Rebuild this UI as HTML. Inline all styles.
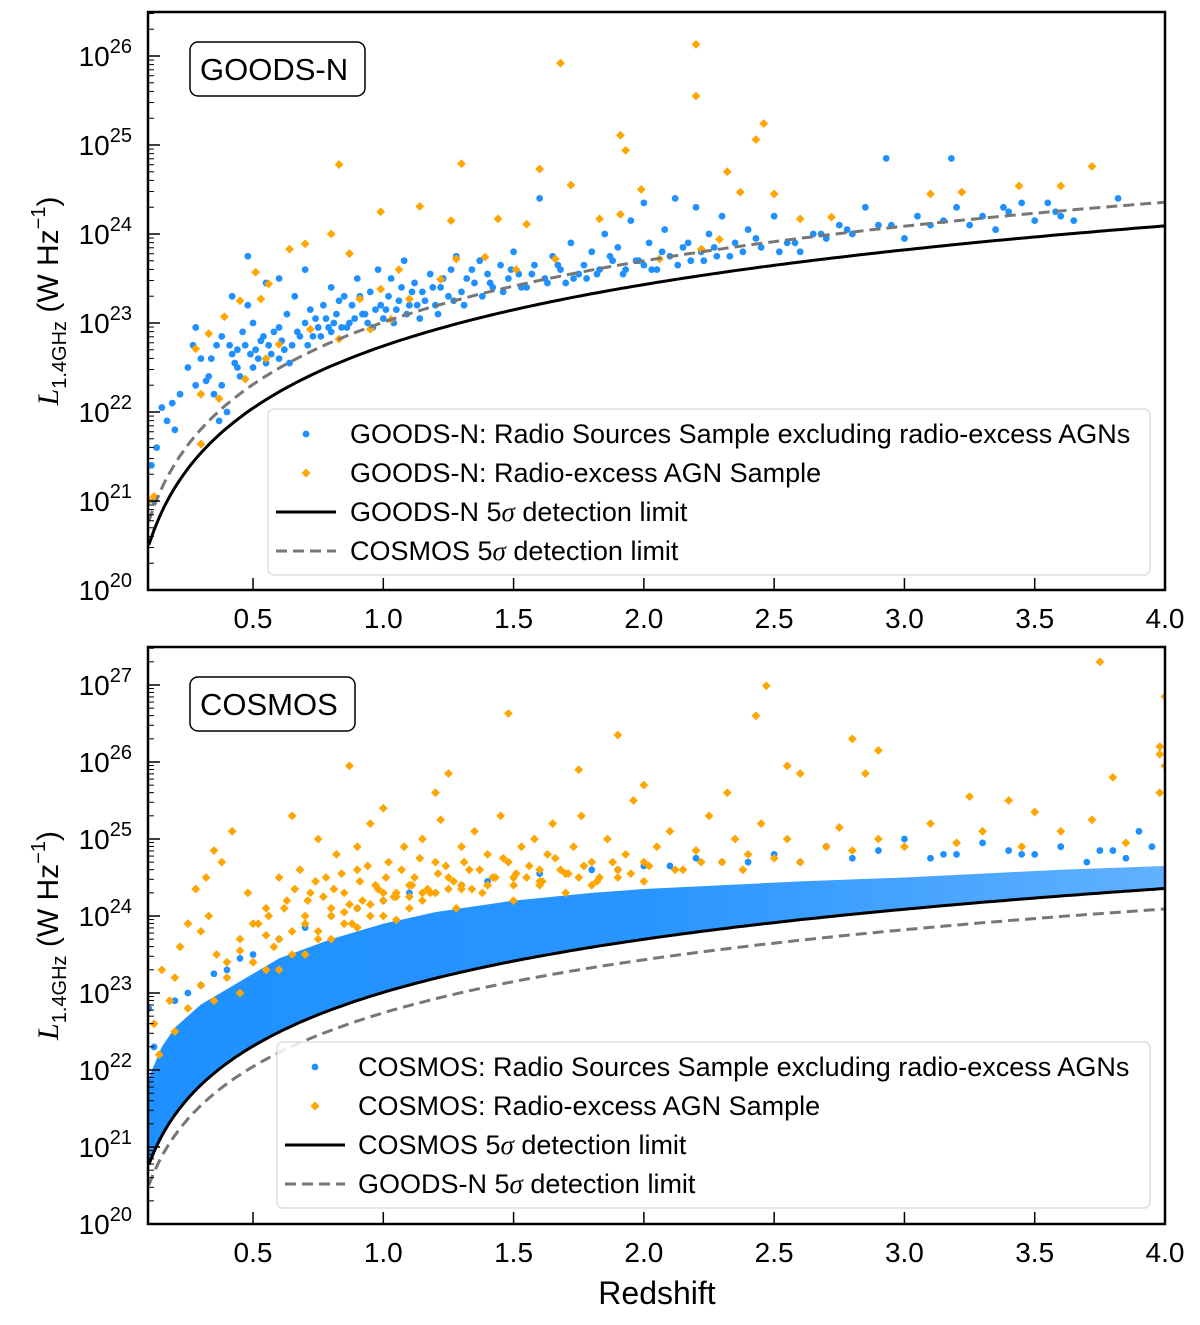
<!DOCTYPE html>
<html><head><meta charset="utf-8"><style>
body{margin:0;background:#fff}
svg{display:block;font-family:"Liberation Sans",Arial,sans-serif}
</style></head><body>
<svg id="chart" width="1200" height="1325" viewBox="0 0 1200 1325" xmlns="http://www.w3.org/2000/svg">
<defs><linearGradient id="bandGrad" x1="0" x2="1" y1="0" y2="0"><stop offset="0" stop-color="#1e90ff" stop-opacity="1"/><stop offset="0.5" stop-color="#1e90ff" stop-opacity="0.95"/><stop offset="1" stop-color="#1e90ff" stop-opacity="0.7"/></linearGradient></defs>
</svg>
<script>
// ---------- data ----------
const xTicks = [0.5,1.0,1.5,2.0,2.5,3.0,3.5,4.0];
const xTickLabels = ["0.5","1.0","1.5","2.0","2.5","3.0","3.5","4.0"];
const topYTicks = [20,21,22,23,24,25,26];
const botYTicks = [20,21,22,23,24,25,26,27];
const goodsFluxLimit_uJy = 13;
const cosmosFluxLimit_uJy = 24;

const goodsBlueZ = [0.11,0.12,0.13,0.15,0.17,0.19,0.2,0.22,0.25,0.27,0.28,0.3,0.32,0.34,0.35,0.37,0.38,0.4,0.41,0.42,0.43,0.44,0.45,0.46,0.47,0.48,0.5,0.5,0.51,0.53,0.55,0.55,0.57,0.58,0.6,0.6,0.62,0.63,0.65,0.66,0.68,0.7,0.72,0.73,0.75,0.77,0.78,0.8,0.8,0.82,0.84,0.85,0.87,0.88,0.9,0.92,0.94,0.95,0.97,0.98,1.0,1.02,1.03,1.05,1.07,1.08,1.1,1.12,1.14,1.15,1.18,1.2,1.22,1.25,1.26,1.28,1.3,1.32,1.35,1.37,1.4,1.42,1.45,1.48,1.5,1.52,1.55,1.58,1.6,1.62,1.65,1.68,1.7,1.72,1.75,1.78,1.8,1.83,1.85,1.88,1.9,1.92,1.95,1.97,2.0,2.0,2.02,2.05,2.08,2.1,2.12,2.15,2.18,2.2,2.22,2.25,2.28,2.3,2.35,2.38,2.4,2.45,2.5,2.55,2.6,2.65,2.7,2.75,2.8,2.85,2.9,2.93,3.0,3.05,3.1,3.18,3.2,3.25,3.3,3.35,3.4,3.45,3.5,3.55,3.6,3.65,3.82,0.42,0.48,0.38,0.28,0.6,0.7,
 0.52,0.56,0.61,0.64,0.67,0.71,0.74,0.76,0.79,0.81,0.83,0.86,0.89,0.91,0.93,0.96,0.99,1.01,1.04,1.06,1.09,1.11,1.13,1.16,1.19,1.21,1.23,1.27,1.31,1.34,1.38,1.41,1.46,1.49,1.53,1.57,1.63,1.67,1.73,1.77,1.82,1.87,1.93,1.98,2.03,2.07,2.13,2.17,2.23,2.27,2.33,2.43,2.52,2.58,2.68,2.78,2.95,3.15,3.38,3.58,0.36,0.44,0.49,0.54,0.33];
const goodsBlueL = [21.4,21.0,21.6,22.05,21.9,22.1,21.8,22.2,22.5,22.75,22.3,22.6,22.35,22.6,22.2,21.9,22.3,22.0,22.75,22.65,22.55,22.7,22.4,22.9,22.75,23.2,22.5,23.0,22.7,22.8,22.55,23.45,22.65,22.9,22.6,22.95,22.7,23.1,22.75,23.3,22.85,23.0,23.15,22.85,22.95,23.2,23.05,22.9,23.4,23.1,22.95,23.3,23.0,23.2,23.5,23.1,23.0,23.35,23.15,23.6,23.05,23.3,23.5,23.15,23.4,23.7,23.2,23.45,23.05,23.35,23.55,23.2,23.4,23.3,23.6,23.75,23.35,23.5,23.45,23.7,23.55,23.4,23.65,23.5,23.8,23.55,23.4,23.65,24.4,23.5,23.75,23.6,23.45,23.9,23.55,23.5,23.8,23.6,24.0,23.7,23.85,23.55,24.15,23.7,24.35,23.65,23.9,23.6,24.05,23.75,24.4,23.85,23.7,24.3,23.8,24.0,23.75,24.2,23.9,23.8,24.05,23.85,24.2,23.9,23.8,24.0,23.95,24.1,24.0,24.3,24.1,24.85,23.95,24.2,24.1,24.85,24.3,24.1,24.2,24.05,24.25,24.35,24.15,24.35,24.2,24.15,24.4,23.3,23.75,22.85,22.95,23.5,23.6,
 22.6,22.75,22.8,22.55,22.9,22.75,23.05,22.85,22.95,23.0,23.25,22.95,23.05,23.3,23.1,22.95,23.2,23.15,23.0,23.25,23.1,23.35,23.2,23.25,23.4,23.1,23.5,23.25,23.2,23.6,23.3,23.45,23.35,23.6,23.4,23.55,23.45,23.65,23.5,23.65,23.55,23.75,23.6,23.7,23.6,23.8,23.65,23.9,23.7,23.85,23.75,23.95,23.8,23.9,24.0,24.05,24.1,24.15,24.3,24.25,22.75,22.5,22.65,22.85,22.4];

const goodsAgnZ = [2.2,1.68,2.2,2.46,2.43,1.93,1.91,0.83,1.3,1.6,2.32,1.72,3.72,1.99,2.37,2.5,1.14,0.99,1.26,1.44,1.55,3.1,3.22,3.44,3.6,0.8,0.64,0.7,0.51,0.56,0.45,0.39,0.33,0.28,0.3,0.3,0.37,0.87,0.91,0.99,1.06,1.1,1.22,1.28,1.39,1.51,1.66,1.83,1.91,2.06,2.22,2.29,2.6,2.72,0.72,0.83,0.53,0.6,0.47,0.55,0.95,1.03,0.1,0.12];
const goodsAgnL = [26.13,25.92,25.55,25.24,25.06,24.94,25.11,24.78,24.79,24.73,24.70,24.55,24.76,24.5,24.47,24.45,24.31,24.25,24.15,24.17,24.11,24.45,24.47,24.54,24.54,24.0,23.83,23.89,23.57,23.44,23.25,23.07,22.88,22.71,22.2,21.64,22.15,23.78,23.27,23.38,23.6,23.27,23.49,23.72,23.74,23.6,23.72,24.17,24.22,23.72,23.83,23.94,24.17,24.19,22.93,22.82,23.27,22.76,22.37,22.6,22.93,23.04,21.0,21.05];

const cosmosBandZ = [0.1,0.15,0.2,0.3,0.4,0.5,0.6,0.8,1.0,1.2,1.5,1.8,2.0,2.3,2.6,3.0,3.3,3.6,4.0];
const cosmosBandTopL = [21.9,22.3,22.55,22.85,23.05,23.25,23.45,23.7,23.9,24.05,24.2,24.3,24.35,24.4,24.45,24.5,24.55,24.6,24.65];

const cosmosBlueZ = [3.9,3.6,3.3,3.0,2.7,2.9,3.5,3.8,3.95,2.4,2.2,2.0,1.8,1.6,0.1,0.12,0.1,3.1,3.7,3.4,3.2,2.5,2.8,3.85,1.4,1.2,0.3,0.4,0.5,0.6,0.7,0.8,0.9,1.0,1.1,1.3,1.5,1.7,1.9,2.1,2.3,2.6,3.15,3.45,3.75,0.2,0.25,0.35,0.45];
const cosmosBlueL = [25.1,24.9,24.95,25.0,24.9,24.85,24.8,24.85,24.9,24.7,24.75,24.65,24.6,24.55,21.0,22.3,22.8,24.75,24.7,24.85,24.8,24.8,24.75,24.75,24.45,24.3,23.1,23.3,23.5,23.7,23.85,24.0,24.1,24.2,24.3,24.4,24.5,24.55,24.6,24.65,24.7,24.7,24.8,24.8,24.85,22.9,23.0,23.25,23.45];

const cosmosAgnZ = [3.75,2.47,2.43,4.0,1.48,3.98,3.98,4.0,3.98,1.9,2.9,0.87,1.25,1.75,2.0,2.55,2.6,2.8,2.32,3.25,2.85,3.4,3.5,3.72,3.8,0.42,0.35,0.38,0.32,0.28,0.25,0.22,0.3,0.33,0.36,0.4,0.45,0.48,0.52,0.55,0.58,0.6,0.63,0.65,0.68,0.7,0.72,0.75,0.78,0.8,0.82,0.85,0.88,0.9,0.92,0.95,0.97,1.0,1.02,1.05,1.08,1.1,1.12,1.15,1.18,1.2,1.22,1.25,1.28,1.3,1.33,1.35,1.38,1.4,1.43,1.45,1.48,1.5,1.53,1.55,1.58,1.6,1.63,1.65,1.68,1.7,1.73,1.76,1.8,1.83,1.86,1.9,1.93,1.96,2.0,2.05,2.1,2.15,2.2,2.25,2.3,2.35,2.4,2.45,2.5,2.55,2.6,2.7,2.75,2.8,2.9,3.0,3.1,3.2,3.3,3.45,3.6,3.85,0.15,0.18,0.2,0.12,0.14,0.2,0.25,0.3,0.35,0.4,0.45,0.5,0.55,0.6,0.65,0.7,0.75,0.8,0.85,0.9,0.95,1.0,1.05,1.1,1.15,1.2,1.3,1.4,1.5,1.6,1.7,1.8,2.0,0.9,0.75,1.0,1.2,0.65,
 0.5,0.56,0.62,0.66,0.71,0.74,0.77,0.81,0.84,0.87,0.91,0.94,0.98,1.01,1.04,1.07,1.11,1.14,1.17,1.21,1.24,1.27,1.31,1.34,1.37,1.42,1.46,1.51,1.56,1.61,1.66,1.71,1.77,1.82,1.88,1.95,2.02,2.12,2.22,2.38,0.6,0.7,0.8,0.9,1.0,1.1,1.2,1.3,1.4,1.5,1.6,1.75,1.9,0.45,0.55,0.85,0.95,1.05,1.15,1.25];
const cosmosAgnL = [27.3,26.99,26.6,26.85,26.63,26.2,26.1,25.95,25.6,26.35,26.15,25.95,25.85,25.9,25.7,25.95,25.85,26.3,25.6,25.55,25.85,25.5,25.35,25.25,25.8,25.1,24.85,24.7,24.5,24.35,23.9,23.6,23.8,24.0,23.5,23.4,23.7,24.3,23.9,24.1,23.6,24.5,24.2,23.8,24.6,24.0,24.3,23.7,24.5,24.1,24.8,24.3,23.9,24.6,24.2,25.2,24.4,24.0,24.7,24.3,24.9,24.1,24.5,25.0,24.3,24.7,25.25,24.5,24.1,24.9,24.6,25.1,24.3,24.8,24.5,25.3,24.7,24.2,24.9,24.5,25.0,24.4,24.8,25.2,24.6,24.3,24.9,25.3,24.7,24.5,25.0,24.6,24.8,25.5,24.7,24.9,25.1,24.6,24.85,25.3,24.7,25.0,24.8,25.2,24.75,25.0,24.7,24.9,25.15,24.85,25.0,24.9,25.2,24.95,25.1,24.9,25.1,24.95,23.3,22.9,23.2,22.6,22.2,22.5,22.8,23.1,22.9,23.2,23.0,23.4,23.3,23.3,23.5,23.5,23.8,23.7,23.9,23.85,24.0,24.3,23.95,24.4,24.2,24.3,24.4,24.4,24.5,24.6,24.55,24.4,24.45,24.9,25.0,25.4,25.6,25.3,
 23.9,24.0,24.1,24.35,24.2,24.45,24.25,24.35,24.55,24.15,24.45,24.65,24.35,24.5,24.25,24.6,24.4,24.75,24.35,24.55,24.65,24.45,24.7,24.35,24.6,24.5,24.75,24.55,24.65,24.45,24.75,24.55,24.65,24.45,24.7,24.55,24.65,24.6,24.7,24.6,23.7,23.9,24.0,24.1,24.2,24.25,24.3,24.35,24.4,24.4,24.45,24.5,24.5,23.55,23.75,24.05,24.15,24.25,24.3,24.35];

// ---------- helpers ----------
const NS = "http://www.w3.org/2000/svg";
const svg = document.getElementById('chart');
function el(tag, attrs, parent){const e=document.createElementNS(NS,tag);for(const k in attrs)e.setAttribute(k,attrs[k]);(parent||svg).appendChild(e);return e;}
const BLUE="#1e90ff", ORANGE="#ffa500";

function lumLimit(z, uJy){
  const n=200; let s=0;
  for(let i=0;i<n;i++){const zz=(i+0.5)*z/n; s+=1/Math.sqrt(0.3*Math.pow(1+zz,3)+0.7);} s*=z/n;
  const DL = 4282.7*s*(1+z)*3.0857e22;
  return Math.log10(4*Math.PI*DL*DL*uJy*1e-32*Math.pow(1+z,-0.3));
}

function makePanel(cfg){
  const g=el('g',{});
  
  
  const X=z=>148.8+(z-0.1)/(3.9)*(1165-148.8);
  const Y=l=>cfg.y0-(l-20)*cfg.dec;
  const clipId=cfg.name+'-clip';
  const cp=el('clipPath',{id:clipId},g); el('rect',{x:148,y:cfg.top,width:1017,height:cfg.y0-cfg.top},cp);
  const plot=el('g',{'clip-path':'url(#'+clipId+')'},g);
  
  
  return {g,plot,X,Y};
}

function curvePath(X,Y,uJy){
  let d=''; for(let i=0;i<=200;i++){const z=0.1+i*3.9/200; d+=(i?'L':'M')+X(z).toFixed(1)+','+Y(lumLimit(z,uJy)).toFixed(1);} return d;
}
function dots(parent,X,Y,zs,ls,name){
  for(let i=0;i<zs.length;i++){
    const c=el('circle',{cx:X(zs[i]),cy:Y(ls[i]),r:3.4,fill:BLUE},parent);
    
    
  }
}
function diamonds(parent,X,Y,zs,ls,name){
  for(let i=0;i<zs.length;i++){
    const x=X(zs[i]),y=Y(ls[i]),s=4.4;
    const p=el('path',{d:`M${x},${y-s}L${x+s},${y}L${x},${y+s}L${x-s},${y}Z`,fill:ORANGE},parent);
    
    
  }
}
function axes(P,cfg,yTicks){
  const {g,X,Y}=P;
  for(let i=0;i<xTicks.length;i++){
    const x=X(xTicks[i]);
    el('line',{x1:x,x2:x,y1:cfg.y0,y2:cfg.y0-12,stroke:'#000','stroke-width':1.5},g);
    const t=el('text',{x:x,y:cfg.y0+38,'font-size':28,'text-anchor':'middle'},g); t.textContent=xTickLabels[i];
    
    
  }
  for(let i=0;i<yTicks.length;i++){
    const y=Y(yTicks[i]);
    el('line',{x1:148,x2:160,y1:y,y2:y,stroke:'#000','stroke-width':1.5},g);
    for(let m=2;m<10;m++){const ym=Y(yTicks[i]+Math.log10(m)); if(ym>cfg.top) el('line',{x1:148,x2:154,y1:ym,y2:ym,stroke:'#000','stroke-width':1},g);}
    const t=el('text',{x:132,y:y+10,'font-size':28,'text-anchor':'end'},g);
    t.innerHTML='10<tspan dy="-13" font-size="20">'+yTicks[i]+'</tspan>';
    
    
  }
  const fr=el('rect',{x:148,y:cfg.top,width:1017,height:cfg.y0-cfg.top,fill:'none',stroke:'#000','stroke-width':2.5},g);
  
  
  const yc=(cfg.top+cfg.y0)/2;
  const yt=el('text',{transform:`translate(58,${yc}) rotate(-90)`,'font-size':30,'text-anchor':'middle'},g);
  yt.innerHTML='<tspan font-family="Liberation Serif,serif" font-style="italic">L</tspan><tspan font-size="20" dy="8">1.4GHz</tspan><tspan dy="-8"> (W Hz</tspan><tspan font-size="20" dy="-13">−1</tspan><tspan dy="13">)</tspan>';
  
  
  const lb=el('rect',{x:190,y:cfg.top+30,width:cfg.labelW,height:54,rx:8,fill:'#fff',stroke:'#000','stroke-width':1.5},g);
  
  
  const lt=el('text',{x:200,y:cfg.top+68,'font-size':31},g); lt.textContent=cfg.field;
  
  
}
function legend(g,cfg,labels){
  const lx=cfg.legX, ly=cfg.legY;
  const box=el('rect',{x:lx,y:ly,width:1150-lx,height:166,rx:6,fill:'#fff','fill-opacity':0.85,stroke:'#ddd','stroke-width':1.5},g);
  
  
  const mx=lx+38, tx=cfg.textX;
  for(let i=0;i<4;i++){
    const y=ly+25+i*39;
    if(i==0){el('circle',{cx:mx,cy:y,r:3.4,fill:BLUE},g);}
    else if(i==1){el('path',{d:`M${mx},${y-4.5}L${mx+4.5},${y}L${mx},${y+4.5}L${mx-4.5},${y}Z`,fill:ORANGE},g);}
    else if(i==cfg.solidRow){el('line',{x1:lx+8,x2:lx+68,y1:y,y2:y,stroke:'#000','stroke-width':3},g);}
    else {el('line',{x1:lx+8,x2:lx+68,y1:y,y2:y,stroke:'#777','stroke-width':3,'stroke-dasharray':'11,6'},g);}
    const t=el('text',{x:tx,y:y+9,'font-size':27},g); t.innerHTML=labels[i];
    
    
  }
}
const sig='<tspan font-family="Liberation Serif,serif" font-style="italic">σ</tspan>';

// ---------- top panel ----------
const cTop={name:'goods-n-panel',top:12,y0:590,dec:89,labelW:175,field:'GOODS-N',legX:268,legY:409,solidRow:2,textX:350};
const T=makePanel(cTop);
dots(T.plot,T.X,T.Y,goodsBlueZ,goodsBlueL,'goods-n-radio-source');
diamonds(T.plot,T.X,T.Y,goodsAgnZ,goodsAgnL,'goods-n-agn');
let p=el('path',{d:curvePath(T.X,T.Y,cosmosFluxLimit_uJy),fill:'none',stroke:'#777','stroke-width':3,'stroke-dasharray':'11,6'},T.plot);
 
p=el('path',{d:curvePath(T.X,T.Y,goodsFluxLimit_uJy),fill:'none',stroke:'#000','stroke-width':3},T.plot);
 
axes(T,cTop,topYTicks);
legend(T.g,cTop,['GOODS-N: Radio Sources Sample excluding radio-excess AGNs','GOODS-N: Radio-excess AGN Sample','GOODS-N 5'+sig+' detection limit','COSMOS  5'+sig+' detection limit']);

// ---------- bottom panel ----------
const cBot={name:'cosmos-panel',top:647,y0:1224,dec:77,labelW:165,field:'COSMOS',legX:277,legY:1042,solidRow:2,textX:358};
const B=makePanel(cBot);
let d='';
for(let i=0;i<cosmosBandZ.length;i++) d+=(i?'L':'M')+B.X(cosmosBandZ[i]).toFixed(1)+','+B.Y(cosmosBandTopL[i]).toFixed(1);
for(let i=200;i>=0;i--){const z=0.1+i*3.9/200; d+='L'+B.X(z).toFixed(1)+','+B.Y(lumLimit(z,cosmosFluxLimit_uJy)).toFixed(1);}
p=el('path',{d:d+'Z',fill:'url(#bandGrad)'},B.plot);
 
dots(B.plot,B.X,B.Y,cosmosBlueZ,cosmosBlueL,'cosmos-radio-source');
diamonds(B.plot,B.X,B.Y,cosmosAgnZ,cosmosAgnL,'cosmos-agn');
p=el('path',{d:curvePath(B.X,B.Y,goodsFluxLimit_uJy),fill:'none',stroke:'#777','stroke-width':3,'stroke-dasharray':'11,6'},B.plot);
 
p=el('path',{d:curvePath(B.X,B.Y,cosmosFluxLimit_uJy),fill:'none',stroke:'#000','stroke-width':3},B.plot);
 
axes(B,cBot,botYTicks);
legend(B.g,cBot,['COSMOS: Radio Sources Sample excluding radio-excess AGNs','COSMOS: Radio-excess AGN Sample','COSMOS  5'+sig+' detection limit','GOODS-N 5'+sig+' detection limit']);
const xt=el('text',{x:657,y:1304,'font-size':32,'text-anchor':'middle'});
xt.textContent='Redshift';


</script>
</body></html>
